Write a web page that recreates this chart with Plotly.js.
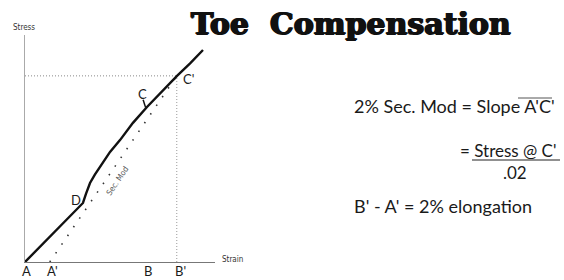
<!DOCTYPE html>
<html>
<head>
<meta charset="utf-8">
<script src="https://cdn.plot.ly/plotly-3.0.1.min.js"></script>
<style>html,body{margin:0;padding:0;background:#fff;}#chart{width:564px;height:280px;}</style>
</head>
<body>
<div id="chart"></div>
<script>
// ---- Data (strain in %, stress in arbitrary units) ----
var curveStrain = [0, 0.457, 0.913, 0.96, 1.024, 1.10, 1.181, 1.339, 1.496, 1.70, 1.921, 2.15, 2.394, 2.60, 2.803];
var curveStress = [0, 12.9, 26.0, 30.0, 34.8, 38.5, 41.9, 48.5, 53.7, 61.3, 68.3, 75.0, 82.0, 87.5, 93.4];
var aStrain = 0;          // A
var aPrimeStrain = 0.39;  // A'
var bStrain = 1.91;       // B
var bPrimeStrain = 2.39;  // B'  (A' + 2%)
var stressAtCPrime = 82.0;
var dStrain = 0.913, dStress = 26.0;
var cStrain = 1.90, cStress = 68.0;
var pointLabels = ["A", "A'", "B", "B'"];

// ---- Layout helpers (pixel -> paper) ----
var L = 25, T = 35, W = 190, H = 227;
function px(x){ return (x - L) / W; }
function py(y){ return (T + H - y) / H; }

var rightFont = {family: "Lato, 'DejaVu Sans', sans-serif", size: 18, color: "#1a1a1a"};
var fracFont = {family: "Lato, 'DejaVu Sans', sans-serif", size: 17, color: "#1a1a1a"};
var labelFont = {family: "Lato, 'DejaVu Sans', sans-serif", size: 13, color: "#1a1a1a"};

var traces = [
  {x: [aStrain, bPrimeStrain], y: [stressAtCPrime, stressAtCPrime], mode: "lines",
   line: {color: "#888", width: 1, dash: "1px,2px"}, hoverinfo: "skip", cliponaxis: false},
  {x: [bPrimeStrain, bPrimeStrain], y: [0, stressAtCPrime], mode: "lines",
   line: {color: "#999", width: 1, dash: "1px,2px"}, hoverinfo: "skip", cliponaxis: false},
  {x: [aPrimeStrain, bPrimeStrain], y: [0, stressAtCPrime], mode: "lines",
   line: {color: "#333", width: 1.6, dash: "1.5px,9px"}, hoverinfo: "skip", cliponaxis: false},
  {x: curveStrain, y: curveStress, mode: "lines",
   line: {color: "#111", width: 2.4, shape: "linear"}, hoverinfo: "skip", cliponaxis: false}
];

var ann = [];
function addAnn(o){ ann.push(Object.assign({showarrow: false, xref: "paper", yref: "paper"}, o)); }

addAnn({text: "<b>Toe  Compensation</b>", x: px(351), y: py(23), xanchor: "center", yanchor: "middle",
  font: {family: "'DejaVu Serif', serif", size: 30, color: "#111",
         shadow: "0.9px 0 0 #111, -0.9px 0 0 #111, 0 0.8px 0 #111"}});
addAnn({text: "Stress", x: px(24), y: py(28), xanchor: "center", yanchor: "middle",
  font: {family: "'Liberation Sans Narrow', 'DejaVu Sans Condensed', sans-serif", size: 8, color: "#333"}});
addAnn({text: "Strain", x: px(232), y: py(259), xanchor: "center", yanchor: "middle",
  font: {family: "'Liberation Sans Narrow', 'DejaVu Sans Condensed', sans-serif", size: 8, color: "#333"}});
var labelStrains = [aStrain, aPrimeStrain, bStrain, bPrimeStrain];
var labelOffsets = [0.03, 0.05, 0.02, 0.06];
for (var i = 0; i < pointLabels.length; i++) {
  ann.push({text: pointLabels[i], x: labelStrains[i] + labelOffsets[i], xref: "x", y: py(271), yref: "paper",
    xanchor: "center", yanchor: "middle", showarrow: false, font: labelFont});
}
ann.push({text: "C", x: cStrain - 0.05, y: cStress + 6, xref: "x", yref: "y", showarrow: false,
  xanchor: "center", yanchor: "middle", font: labelFont});
ann.push({text: "C'", x: bPrimeStrain + 0.18, y: stressAtCPrime - 1.5, xref: "x", yref: "y", showarrow: false,
  xanchor: "center", yanchor: "middle", font: labelFont});
ann.push({text: "D", x: dStrain - 0.11, y: dStress + 1.5, xref: "x", yref: "y", showarrow: false,
  xanchor: "center", yanchor: "middle", font: labelFont});
addAnn({text: "Sec. Mod", x: px(117), y: py(181), xanchor: "center", yanchor: "middle", textangle: -56,
  font: {family: "'Liberation Sans Narrow', 'DejaVu Sans Condensed', sans-serif", size: 8, color: "#555"}});
addAnn({text: "2% Sec. Mod = Slope A'C'", x: px(352), y: py(106), xanchor: "left", yanchor: "middle", font: rightFont});
addAnn({text: "= Stress @ C'", x: px(458), y: py(150), xanchor: "left", yanchor: "middle", font: fracFont});
addAnn({text: ".02", x: px(515), y: py(172), xanchor: "center", yanchor: "middle", font: fracFont});
addAnn({text: "B' - A' = 2% elongation", x: px(352), y: py(206), xanchor: "left", yanchor: "middle", font: rightFont});

var shapes = [
  {type: "line", xref: "paper", yref: "paper", x0: px(518), x1: px(552), y0: py(98), y1: py(98),
   line: {color: "#555", width: 1}},
  {type: "line", xref: "paper", yref: "paper", x0: px(472), x1: px(560), y0: py(160), y1: py(160),
   line: {color: "#222", width: 1.2}},
  {type: "line", xref: "x", yref: "y", x0: cStrain - 0.04, x1: cStrain, y0: cStress + 3.5, y1: cStress,
   line: {color: "#111", width: 1.5}}
];

var layout = {
  width: 564, height: 280,
  margin: {l: L, r: 564 - L - W, t: T, b: 280 - T - H, pad: 0},
  paper_bgcolor: "#fff", plot_bgcolor: "#fff",
  showlegend: false,
  xaxis: {range: [0, W / 63.5], showgrid: false, zeroline: false, showticklabels: false, ticks: "",
          showline: true, linecolor: "#777", linewidth: 1, fixedrange: true},
  yaxis: {range: [0, 100], showgrid: false, zeroline: false, showticklabels: false, ticks: "",
          showline: true, linecolor: "#aaa", linewidth: 1, fixedrange: true},
  annotations: ann,
  shapes: shapes
};

Plotly.newPlot("chart", traces, layout, {staticPlot: true, displayModeBar: false});
</script>
</body>
</html>
